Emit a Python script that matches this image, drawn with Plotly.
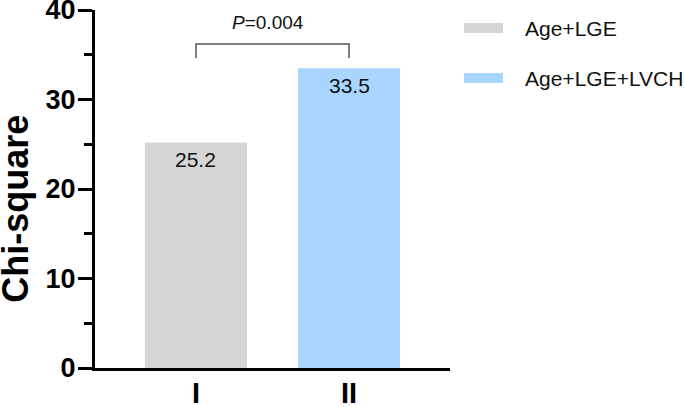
import plotly.graph_objects as go

# data
groups = ["I", "II"]
models = ["Age+LGE", "Age+LGE+LVCH"]
chi_square = [25.2, 33.5]
bar_colors = ["#D6D6D6", "#A9D5FF"]
p_label = "<i>P</i>=0.004"

FONT = "Arial, Liberation Sans, sans-serif"

fig = go.Figure()

fig.add_trace(go.Bar(
  x=groups, y=chi_square,
  marker=dict(color=bar_colors, line=dict(width=0)),
  width=0.667,
  showlegend=False,
  hoverinfo="skip",
))

# value labels near the top of each bar
for g, v in zip(groups, chi_square):
  fig.add_annotation(
    x=g, y=v, xref="x", yref="y",
    text=str(v), showarrow=False,
    yanchor="middle", yshift=-17.5,
    font=dict(family=FONT, size=21, color="#111111"),
  )

# significance bracket
br_top, br_end = 36.2, 34.65
fig.add_shape(
  type="path", xref="x", yref="y",
  path=f"M 0 {br_end} L 0 {br_top} L 1 {br_top} L 1 {br_end}",
  line=dict(color="#555555", width=1.5),
)
fig.add_annotation(
  x=0.47, y=38.65, xref="x", yref="y",
  text=p_label, showarrow=False,
  font=dict(family=FONT, size=19, color="#111111"),
)

# hand-made legend (wide swatches)
legend_y = [0.9497, 0.810]
for name, col, ly in zip(models, bar_colors, legend_y):
  fig.add_shape(
    type="rect", xref="paper", yref="paper",
    x0=1.0394, x1=1.1493, y0=ly - 0.014, y1=ly + 0.014,
    fillcolor=col, line=dict(width=0),
  )
  fig.add_annotation(
    x=1.2056, y=ly, xref="paper", yref="paper",
    text=name, showarrow=False,
    xanchor="left", yanchor="middle",
    font=dict(family=FONT, size=21, color="#111111"),
  )

# y axis title
fig.add_annotation(
  x=-0.226, y=0.444, xref="paper", yref="paper",
  text="<b>Chi-square</b>", showarrow=False, textangle=-90,
  xanchor="center", yanchor="middle",
  font=dict(family=FONT, size=36, color="#000000"),
)

fig.update_xaxes(
  range=[-0.66, 1.66],
  showline=True, linecolor="#000000", linewidth=3,
  ticks="", showgrid=False, zeroline=False,
  tickfont=dict(family=FONT, size=29, color="#000000", weight="bold"),
  ticklabelstandoff=-3,
)
fig.update_yaxes(
  range=[0, 40], dtick=10, tick0=0,
  showline=True, linecolor="#000000", linewidth=3,
  ticks="outside", ticklen=14, tickwidth=3, tickcolor="#000000",
  minor=dict(dtick=5, ticks="outside", ticklen=8, tickwidth=3, tickcolor="#000000"),
  showgrid=False, zeroline=False,
  tickfont=dict(family=FONT, size=27, color="#000000", weight="bold"),
  ticklabelstandoff=-3, ticklabeloverflow="allow",
)

fig.update_layout(
  width=685, height=407,
  margin=dict(l=95, r=235, t=10, b=39, autoexpand=False),
  plot_bgcolor="white", paper_bgcolor="white",
)

# drop the default 8px page margin so the figure fills the window
no_margin = (
  "document.body.style.margin='0';"
  "document.body.style.overflow='hidden';"
  "document.documentElement.style.overflow='hidden';"
)
fig.write_html("out.html", post_script=no_margin, config={"displayModeBar": False})
